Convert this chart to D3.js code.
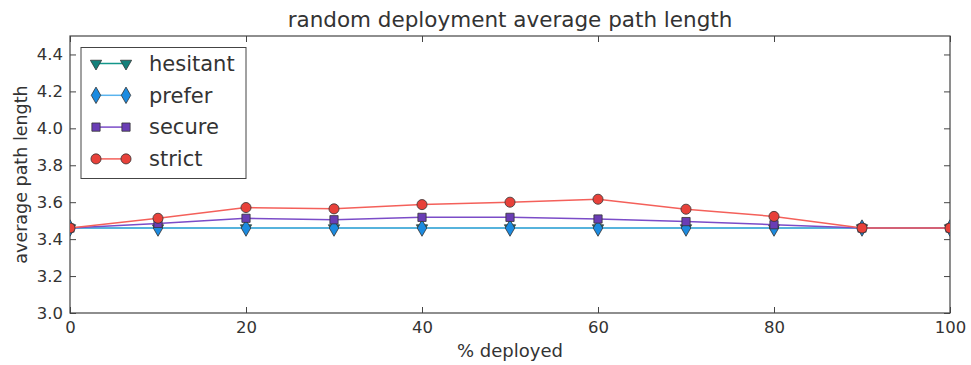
<!DOCTYPE html>
<html>
<head>
<meta charset="utf-8">
<script src="https://cdn.jsdelivr.net/npm/d3@7"></script>
<style>
  html, body { margin: 0; padding: 0; background: #fff; }
  svg { display: block; font-family: "DejaVu Sans", sans-serif; }
</style>
</head>
<body>
<svg id="chart" width="971" height="365"></svg>
<script>
// Percent of deployment on the x axis
const deployed = [0, 10, 20, 30, 40, 50, 60, 70, 80, 90, 100];

// Average path length per policy
const hesitant = [3.46, 3.46, 3.46, 3.46, 3.46, 3.46, 3.46, 3.46, 3.46, 3.46, 3.46];
const prefer   = [3.46, 3.46, 3.46, 3.46, 3.46, 3.46, 3.46, 3.46, 3.46, 3.46, 3.46];
const secure   = [3.46, 3.485, 3.513, 3.505, 3.518, 3.518, 3.509, 3.495, 3.478, 3.46, 3.46];
const strict   = [3.46, 3.513, 3.571, 3.564, 3.587, 3.6, 3.616, 3.562, 3.523, 3.46, 3.46];

const xTicks = [0, 20, 40, 60, 80, 100];
const yTicks = [3.0, 3.2, 3.4, 3.6, 3.8, 4.0, 4.2, 4.4];

const series = [
  { name: "hesitant", values: hesitant, line: "#13968a", fill: "#15807a", symbol: d3.symbolTriangle, rot: 180, size: 55 },
  { name: "prefer",   values: prefer,   line: "#5ab4ee", fill: "#1c8be0", symbol: d3.symbolDiamond, rot: 0, size: 78 },
  { name: "secure",   values: secure,   line: "#7b4cc8", fill: "#6a3db5", symbol: d3.symbolSquare, rot: 0, size: 68 },
  { name: "strict",   values: strict,   line: "#f4605a", fill: "#e8413a", symbol: d3.symbolCircle, rot: 0, size: 80 }
];

const svg = d3.select("#chart");
const margin = { left: 70, right: 21, top: 36, bottom: 52 };
const W = 971, H = 365;
const pw = W - margin.left - margin.right;
const ph = H - margin.top - margin.bottom;

const x = d3.scaleLinear().domain([0, 100]).range([0, pw]);
const y = d3.scaleLinear().domain([3.0, 4.5]).range([ph, 0]);

const textColor = "#333";
const spineColor = "#444";

const g = svg.append("g").attr("transform", `translate(${margin.left},${margin.top})`);

svg.append("defs").append("clipPath").attr("id", "plotclip")
  .append("rect").attr("x", 0).attr("y", 0).attr("width", pw).attr("height", ph);

// Axes with inward ticks on all sides
const tickLen = 6;
const xAxis = g.append("g").attr("transform", `translate(0,${ph})`)
  .call(d3.axisBottom(x).tickValues(xTicks).tickSize(-tickLen).tickPadding(8).tickFormat(d3.format("d")));
const xAxisTop = g.append("g")
  .call(d3.axisTop(x).tickValues(xTicks).tickSize(-tickLen).tickFormat(""));
const yAxis = g.append("g")
  .call(d3.axisLeft(y).tickValues(yTicks).tickSize(-tickLen).tickPadding(7).tickFormat(d3.format(".1f")));
const yAxisRight = g.append("g").attr("transform", `translate(${pw},0)`)
  .call(d3.axisRight(y).tickValues(yTicks).tickSize(-tickLen).tickFormat(""));

[xAxis, xAxisTop, yAxis, yAxisRight].forEach(a => {
  a.select(".domain").remove();
  a.selectAll(".tick line").attr("stroke", spineColor).attr("stroke-width", 1);
  a.selectAll(".tick text").attr("fill", textColor).attr("font-size", 16.5)
    .attr("font-family", "DejaVu Sans, sans-serif");
});

// Frame
g.append("rect").attr("x", 0).attr("y", 0).attr("width", pw).attr("height", ph)
  .attr("fill", "none").attr("stroke", spineColor).attr("stroke-width", 1.2);

// Lines and markers
const plot = g.append("g").attr("clip-path", "url(#plotclip)");
const line = d3.line().x((d, i) => x(deployed[i])).y(d => y(d));

series.forEach(s => {
  plot.append("path").datum(s.values)
    .attr("d", line).attr("fill", "none")
    .attr("stroke", s.line).attr("stroke-width", 1.5);
  const sym = d3.symbol().type(s.symbol).size(s.size);
  plot.selectAll(null).data(s.values).enter().append("path")
    .attr("d", sym)
    .attr("transform", (d, i) => `translate(${x(deployed[i])},${y(d)}) rotate(${s.rot})`)
    .attr("fill", s.fill).attr("stroke", "#333").attr("stroke-width", 0.8);
});

// Legend
const lg = g.append("g").attr("transform", "translate(11,11.5)");
lg.append("rect").attr("x", 0).attr("y", 0).attr("width", 165).attr("height", 131)
  .attr("fill", "#fff").attr("stroke", spineColor).attr("stroke-width", 1);
series.forEach((s, i) => {
  const cy = 16 + i * 31.8;
  lg.append("line").attr("x1", 15).attr("x2", 45).attr("y1", cy).attr("y2", cy)
    .attr("stroke", s.line).attr("stroke-width", 1.5);
  const sym = d3.symbol().type(s.symbol).size(s.size);
  [15, 45].forEach(px => {
    lg.append("path").attr("d", sym)
      .attr("transform", `translate(${px},${cy}) rotate(${s.rot})`)
      .attr("fill", s.fill).attr("stroke", "#333").attr("stroke-width", 0.8);
  });
  lg.append("text").attr("x", 68).attr("y", cy).attr("dy", "0.35em")
    .attr("font-size", 21).attr("fill", textColor).text(s.name);
});

// Title and axis labels
svg.append("text").attr("x", margin.left + pw / 2).attr("y", 27)
  .attr("text-anchor", "middle").attr("font-size", 21.5).attr("fill", textColor)
  .text("random deployment average path length");
svg.append("text").attr("x", margin.left + pw / 2).attr("y", 357)
  .attr("text-anchor", "middle").attr("font-size", 18).attr("fill", textColor)
  .text("% deployed");
svg.append("text").attr("transform", `translate(27,${margin.top + ph / 2}) rotate(-90)`)
  .attr("text-anchor", "middle").attr("font-size", 17.5).attr("fill", textColor)
  .text("average path length");
</script>
</body>
</html>
